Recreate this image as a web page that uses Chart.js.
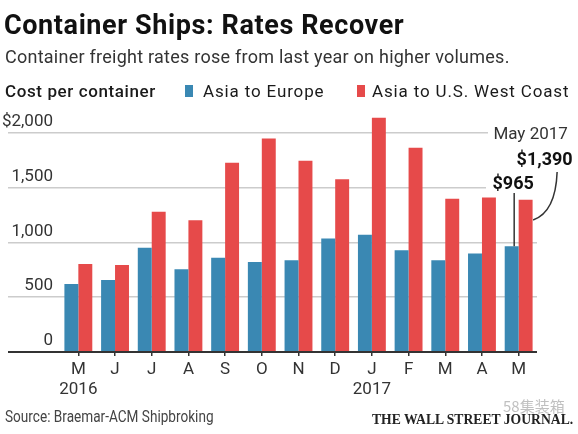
<!DOCTYPE html>
<html>
<head>
<meta charset="utf-8">
<script src="https://cdn.jsdelivr.net/npm/chart.js@4.4.0/dist/chart.umd.min.js"></script>
<style>
  body { margin: 0; background: #fff; }
  #wrap { position: relative; width: 578px; height: 434px; font-family: Roboto, sans-serif; color: #222; }
  #wrap canvas { position: absolute; left: 0; top: 0; }
  .t { position: absolute; white-space: nowrap; }
  .sw { position: absolute; width: 8px; height: 12px; }
  .lg { font: 400 17px/20px Roboto; color: #1a1a1a; letter-spacing: 0.85px; }
</style>
</head>
<body>
<div id="wrap">
  <canvas id="myChart" width="578" height="434"></canvas>
  <div class="t" style="left:4px;top:10px;font:700 27px/30px Roboto;color:#111;letter-spacing:0.6px">Container Ships: Rates Recover</div>
  <div class="t" style="left:5px;top:46px;font:400 18px/22px Roboto;color:#333;letter-spacing:0.25px">Container freight rates rose from last year on higher volumes.</div>
  <div class="t lg" style="left:5px;top:81px;font-weight:500;letter-spacing:0.6px">Cost per container</div>
  <div class="sw" id="sw0" style="left:185px;top:85px"></div>
  <div class="t lg" id="lg0" style="left:203px;top:81px"></div>
  <div class="sw" id="sw1" style="left:357px;top:85px"></div>
  <div class="t lg" id="lg1" style="left:372px;top:81px"></div>
  <div class="t" style="left:5px;top:407px;font:400 16px/20px Roboto;color:#444;transform:scaleX(0.85);transform-origin:left center">Source: Braemar-ACM Shipbroking</div>
  <div class="t" style="left:503px;top:396px;font:400 15px/20px 'Noto Sans CJK SC';color:rgba(140,140,140,0.55)">58集装箱</div>
  <div class="t" style="right:5px;top:410px;font:700 15px/18px 'Liberation Serif';color:#222;transform:scaleX(0.91);transform-origin:right center">THE WALL STREET JOURNAL.</div>
</div>
<script>
const months = ['M', 'J', 'J', 'A', 'S', 'O', 'N', 'D', 'J', 'F', 'M', 'A', 'M'];
const yearLabels = ['2016', '', '', '', '', '', '', '', '2017', '', '', '', ''];
const seriesNames = ['Asia to Europe', 'Asia to U.S. West Coast'];
const asiaEurope = [620, 657, 951, 755, 860, 821, 837, 1037, 1070, 928, 837, 900, 965];
const asiaUSWest = [803, 794, 1280, 1202, 1727, 1950, 1745, 1578, 2138, 1864, 1399, 1411, 1390];
const yTickValues = [0, 500, 1000, 1500, 2000];
const yTickLabels = ['0', '500', '1,000', '1,500', '$2,000'];
const colors = ['#3a88b3', '#e64a4a'];

document.getElementById('sw0').style.background = colors[0];
document.getElementById('sw1').style.background = colors[1];
document.getElementById('lg0').textContent = seriesNames[0];
document.getElementById('lg1').textContent = seriesNames[1];

// callouts for the latest month
const calloutPlugin = {
  id: 'callout',
  afterDatasetsDraw(chart) {
    const ctx = chart.ctx;
    const last = months.length - 1;
    const b = chart.getDatasetMeta(0).data[last];
    const r = chart.getDatasetMeta(1).data[last];
    ctx.save();
    ctx.fillStyle = '#fff';
    ctx.fillRect(488, 124, 90, 22);
    ctx.fillRect(486, 174, 54, 20);
    ctx.textAlign = 'center';
    ctx.textBaseline = 'middle';
    ctx.fillStyle = '#333';
    ctx.font = '400 17px Roboto';
    ctx.fillText('May 2017', r.x + 5, 135);
    ctx.fillStyle = '#111';
    ctx.font = '700 18px Roboto';
    ctx.fillText('$' + asiaUSWest[last].toLocaleString('en-US'), r.x + 19, 160);
    ctx.fillText('$' + asiaEurope[last].toLocaleString('en-US'), b.x + 1.5, 184);
    ctx.strokeStyle = '#333';
    ctx.lineWidth = 1.5;
    ctx.beginPath();
    ctx.moveTo(b.x + 2.5, 193);
    ctx.lineTo(b.x + 2.5, b.y);
    ctx.stroke();
    ctx.beginPath();
    ctx.moveTo(r.x + 31.5, 172);
    ctx.quadraticCurveTo(r.x + 30, 212, r.x + 7.5, 220);
    ctx.stroke();
    ctx.restore();
  }
};

const ctx = document.getElementById('myChart').getContext('2d');
const myChart = new Chart(ctx, {
  type: 'bar',
  data: {
    labels: months,
    datasets: [
      { label: seriesNames[0], data: asiaEurope, backgroundColor: colors[0] },
      { label: seriesNames[1], data: asiaUSWest, backgroundColor: colors[1] },
    ],
  },
  options: {
    responsive: false,
    animation: false,
    categoryPercentage: 0.76,
    barPercentage: 1.0,
    layout: { padding: { top: 111, left: 0, right: 41, bottom: 0 } },
    plugins: { legend: { display: false }, title: { display: false }, tooltip: { enabled: false } },
    scales: {
      x: {
        afterFit: (s) => { s.height = 82; },
        border: { display: false },
        grid: { drawOnChartArea: false, offset: false, tickLength: 4, color: '#333', lineWidth: 1.5 },
        ticks: {
          padding: 4,
          color: '#333',
          font: { family: 'Roboto', size: 17, lineHeight: 1.18 },
          maxRotation: 0,
          autoSkip: false,
          callback: (v, i) => (yearLabels[i] ? [months[i], yearLabels[i]] : months[i]),
        },
      },
      y: {
        min: 0,
        max: 2200,
        afterFit: (s) => { s.width = 60; },
        afterBuildTicks: (s) => { s.ticks = yTickValues.map((v) => ({ value: v })); },
        border: { display: false },
        grid: {
          tickLength: 52,
          color: (c) => (c.tick && c.tick.value === 0 ? '#333' : '#cccccc'),
          lineWidth: (c) => (c.tick && c.tick.value === 0 ? 2 : 1.5),
        },
        ticks: {
          padding: -45,
          labelOffset: -11,
          color: '#333',
          font: { family: 'Roboto', size: 17 },
          callback: (v) => yTickLabels[yTickValues.indexOf(v)],
        },
      },
    },
  },
  plugins: [calloutPlugin],
});
</script>
</body>
</html>
